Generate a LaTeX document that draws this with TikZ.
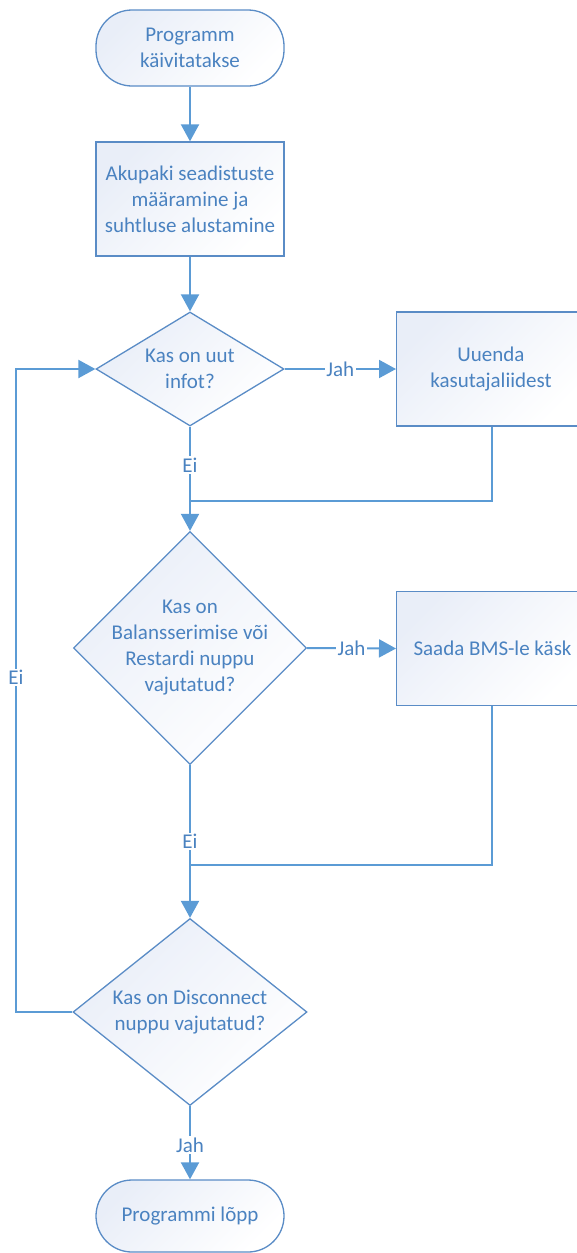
\documentclass[tikz,border=0pt]{standalone}
\usepackage{fontspec}
\setmainfont{Carlito}
\usetikzlibrary{shapes.geometric,arrows.meta}
\definecolor{lineblue}{HTML}{5B9BD5}
\definecolor{edgeblue}{HTML}{5A8CC6}
\definecolor{textblue}{HTML}{4A82C0}
\definecolor{fillblue}{HTML}{E9EEF8}
\tikzset{
  shapefill/.style={draw=edgeblue, line width=1.3pt, top color=fillblue, bottom color=white, shading angle=45},
  term/.style={shapefill, rectangle, rounded corners=36pt, minimum width=188pt, inner sep=0pt},
  proc/.style={shapefill, rectangle, minimum width=188pt, minimum height=114pt, inner sep=0pt},
  dia/.style={shapefill, diamond, inner sep=0pt},
  txt/.style={text=textblue, font=\fontsize{21pt}{26pt}\selectfont, align=center},
  conn/.style={draw=lineblue, line width=2pt},
  arr/.style={conn, -{Triangle[width=18pt,length=17pt]}},
  lbl/.style={txt, fill=white, inner sep=1.5pt},
}
\begin{document}
\begin{tikzpicture}[x=1pt,y=-1pt]
\useasboundingbox (0,0) rectangle (577,1253);
\clip (0,0) rectangle (577,1253);
% shapes
\node[term, minimum height=76pt] (start) at (190,48) {};
\node[txt] (startt) at (start) {Programm\\käivitatakse};
\node[proc] (b1) at (190,199) {};
\node[txt] (b1t) at (b1) {Akupaki seadistuste\\määramine ja\\suhtluse alustamine};
\node[dia, minimum width=188pt, minimum height=114pt] (d1) at (190,369) {};
\node[txt] (d1t) at (d1) {Kas on uut\\infot?};
\node[proc, minimum width=190pt, anchor=west] (b2) at (396,369) {};
\node[txt] (b2t) at (491,369) {Uuenda\\kasutajaliidest};
\node[dia, minimum width=233pt, minimum height=233pt] (d2) at (190,648) {};
\node[txt] (d2t) at (d2) {Kas on\\Balansserimise või\\Restardi nuppu\\vajutatud?};
\node[proc, minimum width=190pt, anchor=west] (b3) at (396,648.5) {};
\node[txt, anchor=west] (b3t) at (410,648.5) {Saada BMS-le käsk};
\node[dia, minimum width=234pt, minimum height=187pt] (d3) at (190,1012) {};
\node[txt] (d3t) at (d3) {Kas on Disconnect\\nuppu vajutatud?};
\node[term, minimum height=72pt] (end) at (190,1216) {};
\node[txt] (endt) at (end) {Programmi lõpp};
% coordinates
\coordinate (j1) at (190,501);
\coordinate (b2c) at (491.5,501);
\coordinate (j2) at (190,865);
\coordinate (b3c) at (491.5,865);
\coordinate (l1) at (16,1012);
\coordinate (l2) at (16,369);
% connectors
\draw[arr] (start) -- (b1);
\draw[arr] (b1) -- (d1);
\draw[arr] (d1.east) -- node[lbl] {Jah} (b2.west);
\draw[conn] (b2.south -| b2c) -- (b2c) -- (j1);
\draw[arr] (d1.south) -- node[lbl, pos=0.37] {Ei} (d2.north);
\draw[arr] (d2.east) -- node[lbl, pos=0.5] {Jah} (b3.west);
\draw[conn] (b3.south -| b3c) -- (b3c) -- (j2);
\draw[arr] (d2.south) -- node[lbl, pos=0.5] {Ei} (d3.north);
\draw[arr] (d3.south) -- node[lbl, pos=0.53] {Jah} (end.north);
\draw[arr] (d3.west) -- (l1) -- node[lbl, pos=0.52] {Ei} (l2) -- (d1.west);
\end{tikzpicture}
\end{document}
